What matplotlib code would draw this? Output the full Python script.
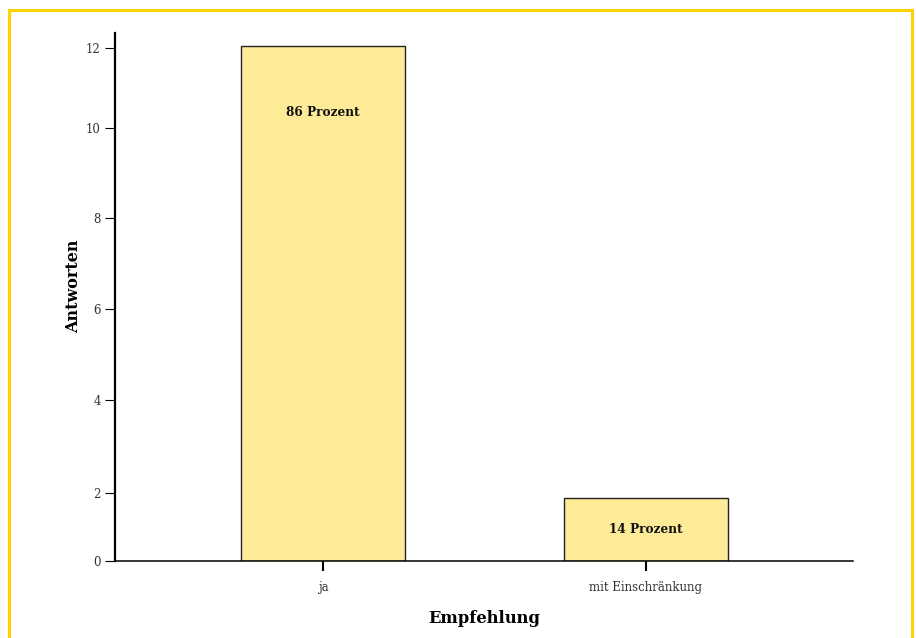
import matplotlib
matplotlib.use("Agg")
import matplotlib.pyplot as plt
from matplotlib.patches import Rectangle

# data
categories = ["ja", "mit Einschränkung"]
heights = [12.05, 1.47]
bar_labels = ["86 Prozent", "14 Prozent"]
tick_pos = [0, 1.59, 3.77, 5.89, 8.02, 10.13, 12]
tick_labels = ["0", "2", "4", "6", "8", "10", "12"]

plt.rcParams["font.family"] = ["DejaVu Serif"]

fig = plt.figure(figsize=(9.16, 6.38), dpi=100)
ax = fig.add_axes([115 / 916, 77 / 638, 738 / 916, 528 / 638])

x = list(range(len(categories)))
ax.bar(x, heights, width=0.51, color="#feeb98", edgecolor="#222222", linewidth=1.0)

for xi, h, lab in zip(x, heights, bar_labels):
    y = h / 2 if h < 3 else h - 1.55
    ax.text(xi, y, lab, ha="center", va="center", fontsize=8.7, fontweight="bold", color="#111111")

ax.set_xlim(-0.644, 1.641)
ax.set_ylim(0, 12.35)
ax.set_xticks(x)
ax.set_xticklabels(categories)
ax.set_yticks(tick_pos)
ax.set_yticklabels(tick_labels)

ax.tick_params(axis="y", direction="out", length=7.2, width=0.8, pad=3, labelsize=8.5, labelcolor="#333333")
ax.tick_params(axis="x", direction="out", length=7.2, width=1.5, pad=7.5, labelsize=8.5, labelcolor="#333333")

for s in ["top", "right"]:
    ax.spines[s].set_visible(False)
ax.spines["left"].set_linewidth(1.6)
ax.spines["bottom"].set_linewidth(1.1)

ax.set_xlabel("Empfehlung", fontsize=11.8, fontweight="bold", labelpad=11)
ax.set_ylabel("Antworten", fontsize=11.5, fontweight="bold")
ax.yaxis.set_label_coords(-0.045, 0.52)

# yellow frame round the figure
fig.patches.append(Rectangle((9 / 916, -0.05), 903 / 916, 1.05 - 10 / 638,
                             transform=fig.transFigure, fill=False,
                             edgecolor="#ffd200", linewidth=2.2))

fig.savefig("out.png", dpi=100)
